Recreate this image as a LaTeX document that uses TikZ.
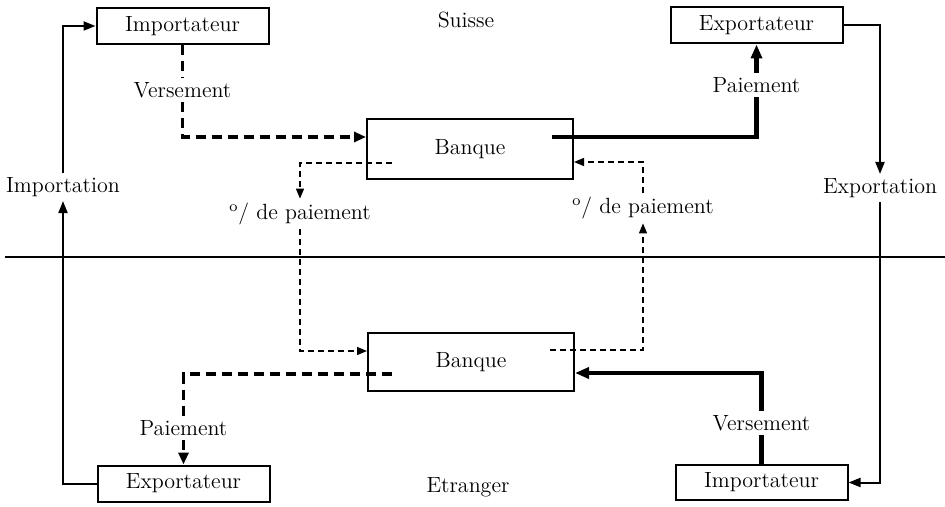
\documentclass[tikz,border=0pt]{standalone}
\usetikzlibrary{arrows.meta}
\begin{document}
\begin{tikzpicture}[x=0.5pt,y=-0.5pt,
  every node/.style={font=\fontsize{11}{13}\selectfont},
  box/.style={draw,line width=1pt,minimum width=86pt,minimum height=18pt,inner sep=0pt},
  bank/.style={draw,line width=1pt,minimum width=103pt,minimum height=30pt,inner sep=0pt},
  lbl/.style={inner sep=2pt},
  flow/.style={line width=1pt,-{Triangle[length=6pt,width=4.5pt]}},
  money/.style={line width=2.2pt,-{Triangle[length=7pt,width=5.5pt]}},
  order/.style={line width=1.8pt,dash pattern=on 5pt off 3pt,-{Triangle[length=6pt,width=5pt]}},
  notice/.style={line width=0.7pt,dash pattern=on 3pt off 2pt,-{Triangle[length=5pt,width=4pt]}}]
\useasboundingbox (0,0) rectangle (945,507);
% Suisse / Etranger
\draw[line width=1.3pt] (5,257) -- (945,257);
\node (suisse) at (466,20) {Suisse};
\node (etranger) at (468,487) {Etranger};
% boxes
\node[box] (impCH) at (182.5,26) {Importateur};
\node[box] (expCH) at (756.5,25.5) {Exportateur};
\node[box] (expET) at (183.5,483.5) {Exportateur};
\node[box,minimum height=17.5pt] (impET) at (761.5,482.5) {Importateur};
\node[bank] (bankCH) at (470,149) {Banque};
\node[bank,minimum height=29pt] (bankET) at (471,362) {Banque};
% labels
\node[lbl] (importation) at (63,187) {Importation};
\node[lbl] (exportation) at (880,188) {Exportation};
\node[lbl] (versCH) at (182.5,90) {Versement};
\node[lbl] (paiCH) at (756.5,85) {Paiement};
\node[lbl] (ordreCH) at (300,214) {\textsuperscript{o}/ de paiement};
\node[lbl] (ordreET) at (643,208) {\textsuperscript{o}/ de paiement};
\node[lbl] (paiET) at (183.5,428) {Paiement};
\node[lbl] (versET) at (761.5,423) {Versement};
\coordinate (fromCHl) at (392,163);
\coordinate (fromCHr) at (552,137);
\coordinate (fromETl) at (392,374);
\coordinate (fromETr) at (550,350);
% goods
\draw[flow] (expET.west) -| (importation.south);
\draw[flow] (importation.north) |- (impCH.west);
\draw[flow] (expCH.east) -| (exportation.north);
\draw[flow] (exportation.south) |- (impET.east);
% payments
\draw[order,-] (impCH.south) -- (versCH.north);
\draw[order] (versCH.south) |- ([yshift=6pt]bankCH.west);
\draw[money,-] (fromCHr) -| (paiCH.south);
\draw[money] (paiCH.north) -- (expCH.south);
\draw[money,-] (impET.north) -- (versET.south);
\draw[money] (versET.north) |- ([yshift=-5.5pt]bankET.east);
\draw[order,-] (fromETl) -| (paiET.north);
\draw[order] (paiET.south) -- (expET.north);
% between the banks
\draw[notice] (fromCHl) -| (ordreCH.north);
\draw[notice] (ordreCH.south) |- ([yshift=5.5pt]bankET.west);
\draw[notice] (fromETr) -| (ordreET.south);
\draw[notice] (ordreET.north) |- ([yshift=-6.5pt]bankCH.east);
\end{tikzpicture}
\end{document}
